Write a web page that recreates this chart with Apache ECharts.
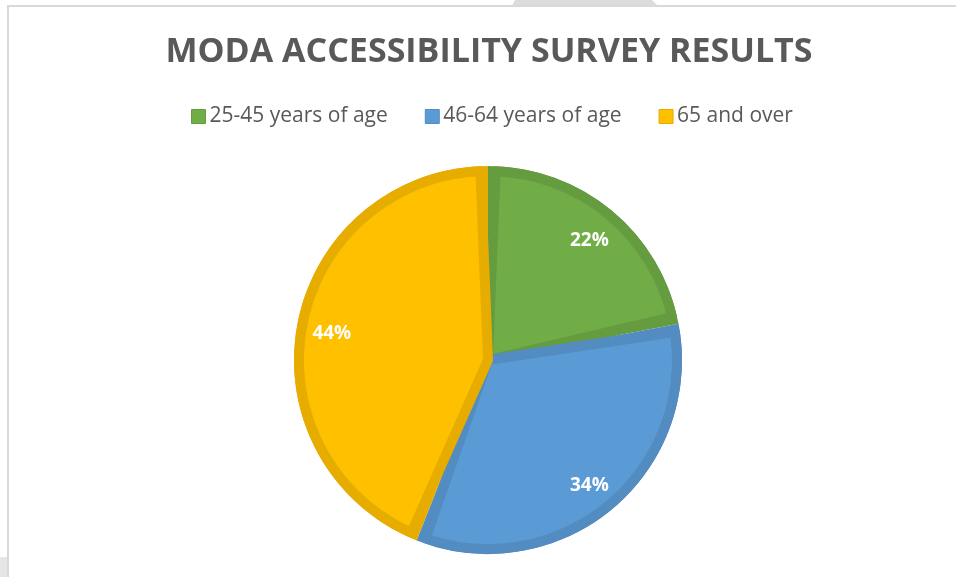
<!DOCTYPE html>
<html>
<head>
<meta charset="utf-8">
<script src="https://cdn.jsdelivr.net/npm/echarts@6/dist/echarts.min.js"></script>
<style>
html,body{margin:0;padding:0;background:#fff;}
#chart{width:956px;height:577px;}
</style>
</head>
<body>
<div id="chart"></div>
<script>
const titleText = 'MODA ACCESSIBILITY SURVEY RESULTS';
const categories = ['25-45 years of age', '46-64 years of age', '65 and over'];
const values = [22, 34, 44];
const fillColors = ['#70AD47', '#5B9BD5', '#FFC000'];
const edgeColors = ['#659C40', '#528CC0', '#E6AD00'];

const chart = echarts.init(document.getElementById('chart'), null, {renderer: 'canvas'});
const center = ['488', '360'];

function items(colorArr, borderArr, bw) {
  return categories.map((c, i) => ({
    name: c,
    value: values[i],
    itemStyle: {color: colorArr ? colorArr[i] : 'rgba(0,0,0,0)', borderColor: borderArr ? borderArr[i] : 'transparent', borderWidth: bw}
  }));
}

const option = {
  backgroundColor: '#ffffff',
  animation: false,
  title: {
    text: titleText,
    left: 484, top: 30, textAlign: 'center',
    textStyle: {fontFamily: 'Open Sans', fontWeight: 'bold', fontSize: 34, color: '#595959'}
  },
  legend: {
    top: 101, left: 186,
    itemWidth: 14, itemHeight: 14, itemGap: 37,
    icon: 'rect',
    selectedMode: false,
    textStyle: {fontFamily: 'Open Sans', fontSize: 21, color: '#595959', padding: [0, 0, 0, -1]},
    data: categories.map((c, i) => ({name: c, itemStyle: {color: fillColors[i], borderColor: edgeColors[i], borderWidth: 1}}))
  },
  graphic: [
    {type: 'polygon', shape: {points: [[515, 0], [652, 0], [658, 6], [512, 6]]}, style: {fill: '#dcdcdc'}, silent: true},
    {type: 'line', shape: {x1: 7, y1: 6, x2: 956, y2: 6}, style: {stroke: '#d9d9d9', lineWidth: 2}, silent: true},
    {type: 'line', shape: {x1: 8, y1: 5, x2: 8, y2: 577}, style: {stroke: '#d9d9d9', lineWidth: 2}, silent: true},
    {type: 'rect', shape: {x: 0, y: 557, width: 7, height: 20}, style: {fill: '#e6e6e6'}, silent: true}
  ],
  series: [
    {
      type: 'pie', name: 'edge', center: center, radius: [0, 194],
      startAngle: 90, clockwise: true, silent: true, z: 1,
      label: {show: false}, labelLine: {show: false},
      data: items(edgeColors, null, 0)
    },
    {
      type: 'pie', name: 'fill', center: center, radius: [0, 189],
      startAngle: 90, clockwise: true, silent: true, z: 2,
      padAngle: 4.6,
      label: {show: false}, labelLine: {show: false},
      data: items(fillColors, edgeColors, 10)
    },
    {
      type: 'pie', name: 'labels', center: ['488', '363'], radius: [118, 194],
      startAngle: 90, clockwise: true, silent: true, z: 3,
      labelLine: {show: false},
      label: {
        show: true, position: 'inside',
        formatter: p => p.value + '%',
        fontFamily: 'Open Sans', fontWeight: 'bold', fontSize: 19, color: '#ffffff'
      },
      data: items(null, null, 0)
    }
  ]
};
chart.setOption(option);
</script>
</body>
</html>
